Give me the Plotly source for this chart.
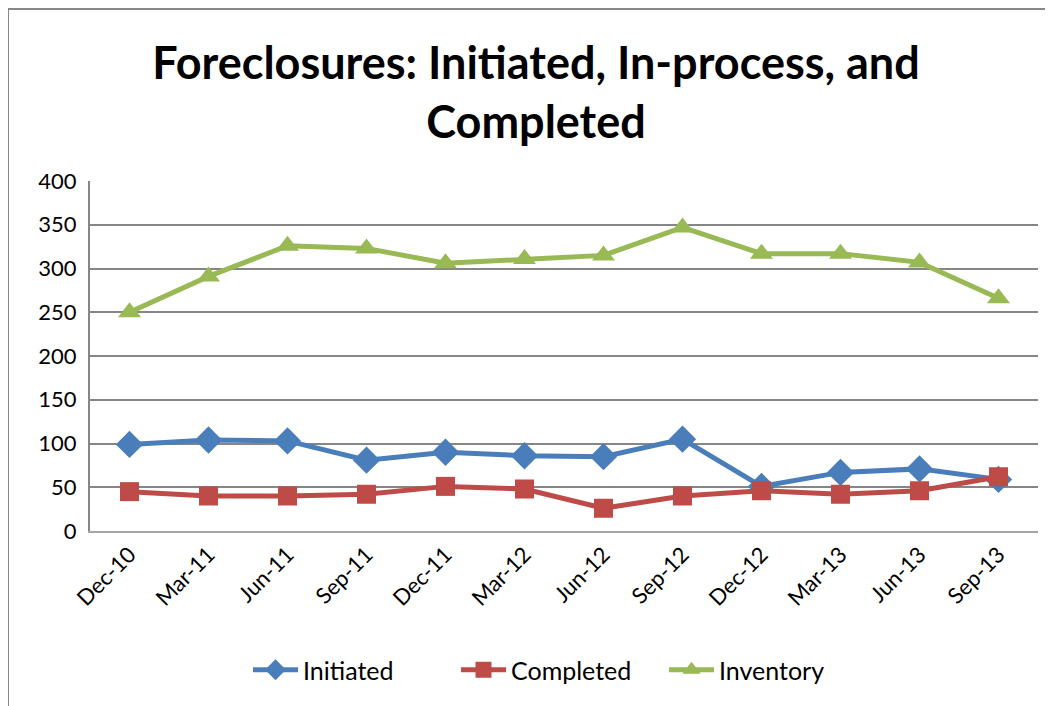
import plotly.graph_objects as go

categories = ["Dec-10", "Mar-11", "Jun-11", "Sep-11", "Dec-11", "Mar-12",
              "Jun-12", "Sep-12", "Dec-12", "Mar-13", "Jun-13", "Sep-13"]
initiated = [99, 104, 103, 81, 90, 86, 85, 105, 51, 67, 71, 59]
completed = [45, 40, 40, 42, 51, 48, 26, 40, 46, 42, 46, 62]
inventory = [250, 291, 326, 323, 306, 311, 315, 347, 317, 317, 307, 266]
y_ticks = [0, 50, 100, 150, 200, 250, 300, 350, 400]

FONT = "Lato"

fig = go.Figure()
fig.add_trace(go.Scatter(x=categories, y=initiated, name="Initiated", mode="lines+markers",
                         line=dict(color="#4A7EBB", width=5),
                         marker=dict(symbol="diamond", size=21, color="#4A7EBB")))
fig.add_trace(go.Scatter(x=categories, y=completed, name="Completed", mode="lines+markers",
                         line=dict(color="#BE4B48", width=5),
                         marker=dict(symbol="square", size=19, color="#BE4B48")))
fig.add_trace(go.Scatter(x=categories, y=inventory, name="Inventory", mode="lines+markers",
                         line=dict(color="#98B954", width=5),
                         marker=dict(symbol="triangle-up", size=20, color="#98B954")))

# page has an 8px body margin: figure coordinates = page coordinates - 8
W, H = 1045, 698
L, T = 82, 173
pw, ph = 948, 350
R, B = W - L - pw, H - T - ph

def px(x):
    return (x - L) / pw

def py(y):
    return (T + ph - y) / ph

fig.update_layout(
    width=W, height=H,
    margin=dict(l=L, r=R, t=T, b=B),
    paper_bgcolor="white", plot_bgcolor="white",
    font=dict(family=FONT, color="black"),
    title=dict(text="<b>Foreclosures: Initiated, In-process, and<br>Completed</b>",
               x=528 / W, xanchor="center", xref="container",
               y=1 - 71 / H, yanchor="top", yref="container",
               font=dict(size=45, family=FONT, color="black")),
    showlegend=True,
    legend=dict(orientation="h", x=552 / W, xanchor="center", xref="container",
                y=1 - 662 / H, yanchor="middle", yref="container",
                font=dict(size=25, family=FONT, color="black"),
                itemwidth=45, entrywidth=148, tracegroupgap=0),
    xaxis=dict(type="category", tickangle=-45, tickfont=dict(size=22, family=FONT),
               showgrid=False, showline=True, linecolor="#A6A6A6", linewidth=2,
               ticks="", range=[-0.5, len(categories) - 0.5]),
    yaxis=dict(range=[0, 400], tickvals=y_ticks, tickfont=dict(size=22, family=FONT),
               showgrid=True, gridcolor="#868686", gridwidth=2,
               showline=True, linecolor="#868686", linewidth=2, ticks="",
               zeroline=False, ticklabelstandoff=7),
    shapes=[dict(type="rect", xref="paper", yref="paper",
                 x0=px(0), x1=px(1065), y0=py(1), y1=py(720),
                 line=dict(color="#888888", width=2), layer="below")],
)

fig.write_html("out.html")
